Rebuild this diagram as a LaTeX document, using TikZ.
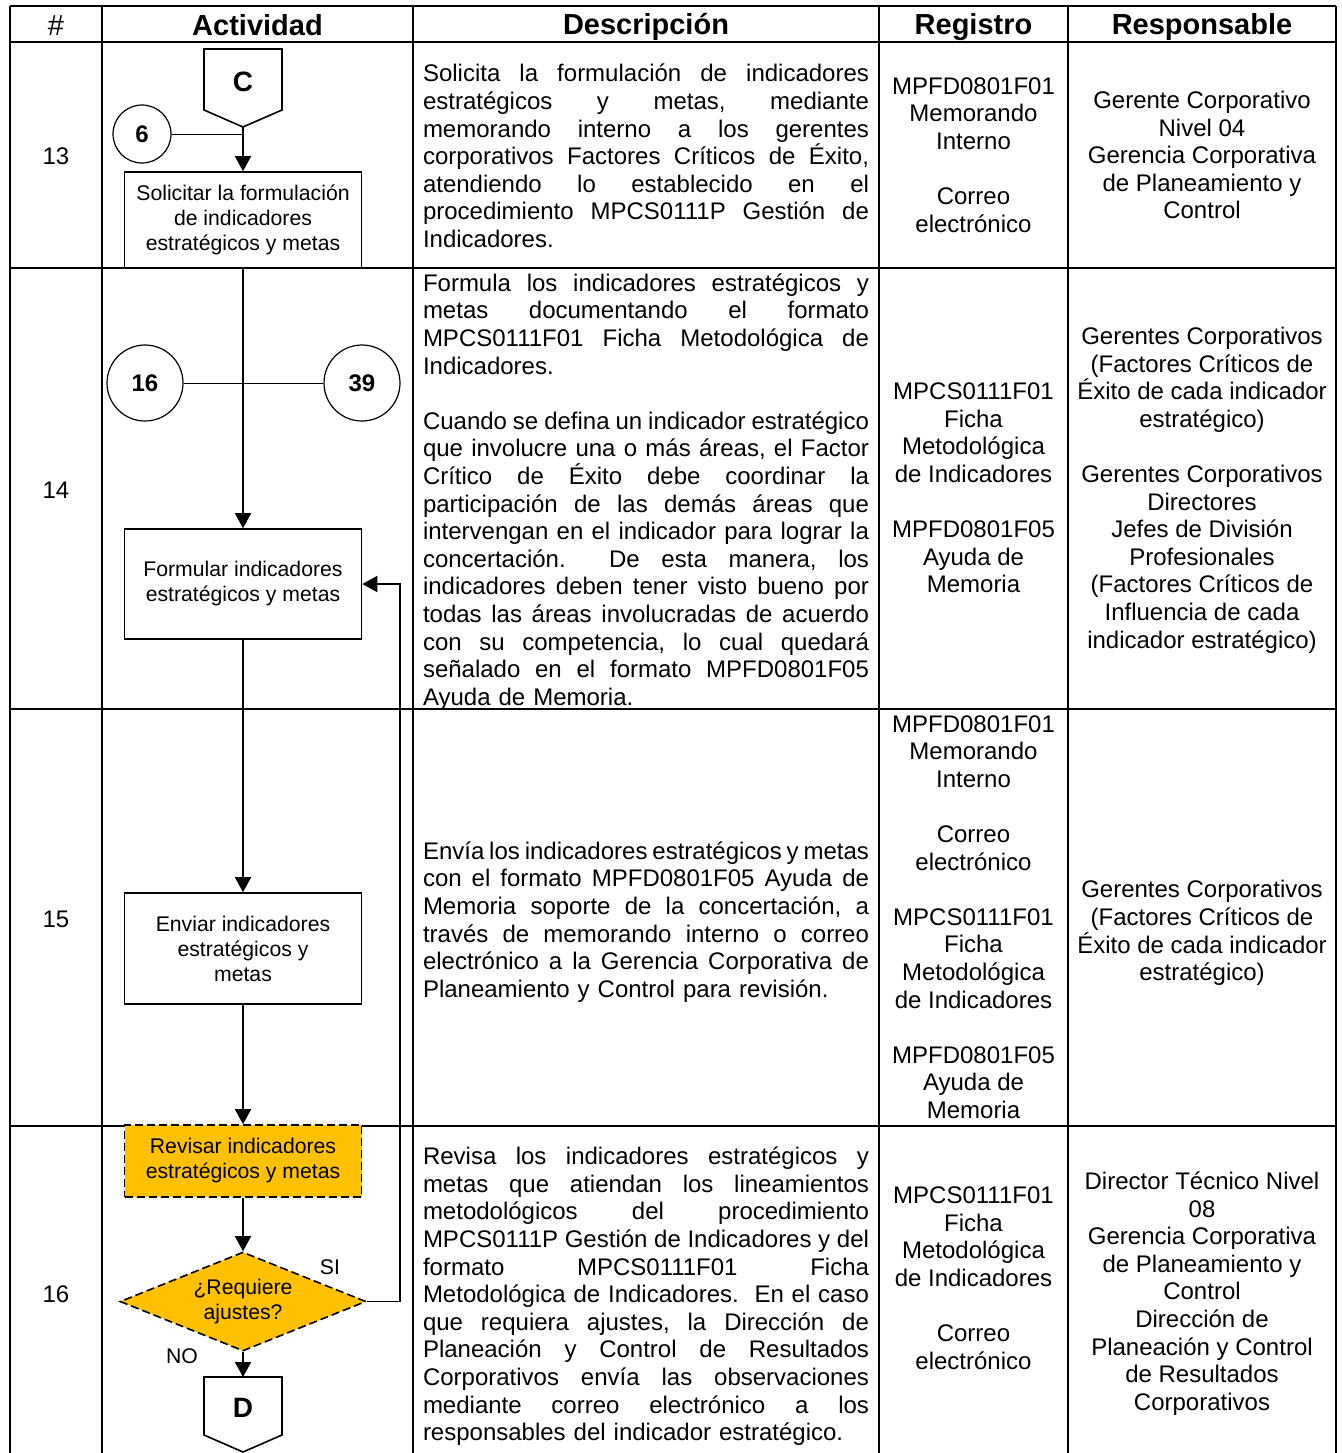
\documentclass[tikz,border=0pt]{standalone}
\usepackage{fontspec}
\setmainfont{Liberation Sans}
\usetikzlibrary{arrows.meta}
\usetikzlibrary{calc}
\usetikzlibrary{shapes.geometric}

\definecolor{revorange}{HTML}{FFC000}

\newlength{\descw}
\setlength{\descw}{223pt}
% one justified line of the description column
\newcommand{\jl}[1]{\leavevmode\hbox to\descw{\frenchspacing\spaceskip=0.278em plus 1fil minus 0.15em\relax#1}\\}
% struts that centre the text on its visual middle
\newcommand{\cellstrut}{\rule[-2.1pt]{0pt}{13.8pt}}
\newcommand{\boxstrut}{\rule{0pt}{14.5pt}}
\newcommand{\boxendstrut}{\rule{0pt}{12.5pt}}
\newcommand{\headstrut}{\rule[-2.2pt]{0pt}{16pt}}

\begin{document}
\begin{tikzpicture}[x=0.5pt,y=-0.5pt,
    tablerule/.style={line width=1pt},
    cell/.style={inner sep=0pt,align=center,font=\fontsize{12}{13.8}\selectfont,
      execute at begin node={\lineskiplimit=-100pt\cellstrut},execute at end node=\cellstrut},
    head/.style={inner sep=0pt,font=\bfseries\fontsize{14.5}{16}\selectfont,
      execute at begin node=\headstrut},
    desc/.style={cell,text width=\descw,align=left},
    proc/.style={draw,line width=0.8pt,fill=white,minimum width=118.5pt,inner sep=2pt,
      align=center,font=\fontsize{10.6}{12.5}\selectfont,
      execute at begin node={\lineskiplimit=-100pt\boxstrut},execute at end node=\boxendstrut},
    review/.style={proc,fill=revorange,dash pattern=on 4pt off 2pt},
    decision/.style={diamond,draw,line width=0.8pt,fill=revorange,dash pattern=on 4pt off 2pt,
      aspect=2.5,inner sep=0pt,minimum width=123pt,minimum height=49.5pt,
      align=center,font=\fontsize{10.6}{12.5}\selectfont,
      execute at begin node={\lineskiplimit=-100pt\boxstrut},execute at end node=\boxendstrut},
    link/.style={circle,draw,line width=0.6pt,fill=white,inner sep=0pt,
      font=\bfseries\fontsize{12}{14}\selectfont},
    page/.style={inner sep=0pt,font=\bfseries\fontsize{14}{16}\selectfont},
    lbl/.style={inner sep=0pt,font=\fontsize{10.6}{12.5}\selectfont},
    outline/.style={line width=0.8pt,fill=white},
    flow/.style={line width=0.8pt,-{Triangle[length=7.5pt,width=8pt]}},
    thinline/.style={line width=0.5pt}]

  \useasboundingbox (0,0) rectangle (1342,1453);

  % table
  \draw[tablerule] (10,6) -- (1336,6);
  \foreach \y in {42,268,709,1126}
    \draw[tablerule] (10,\y) -- (1336,\y);
  \foreach \x in {10,102,413,879,1068,1336}
    \draw[tablerule] (\x,6) -- (\x,1453);

  % header
  \node[head,font=\fontsize{14.5}{16}\selectfont] (hNum) at (56,24) {\#};
  \node[head] (hAct) at (257.5,24) {Actividad};
  \node[head] (hDesc) at (646,24) {Descripción};
  \node[head] (hReg) at (973.5,24) {Registro};
  \node[head] (hResp) at (1202,24) {Responsable};

  % row numbers
  \node[cell] (n13) at (56,155) {13};
  \node[cell] (n14) at (56,489) {14};
  \node[cell] (n15) at (56,918) {15};
  \node[cell] (n16) at (56,1293) {16};

  % descripcion
  \node[desc] (d13) at (646,155) {\jl{Solicita la formulación de indicadores}\jl{estratégicos y metas, mediante}\jl{memorando interno a los gerentes}\jl{corporativos Factores Críticos de Éxito,}\jl{atendiendo lo establecido en el}\jl{procedimiento MPCS0111P Gestión de}Indicadores.};
  \node[desc] (d14) at (646,489) {\jl{Formula los indicadores estratégicos y}\jl{metas documentando el formato}\jl{MPCS0111F01 Ficha Metodológica de}Indicadores.\\[13.8pt]\jl{Cuando se defina un indicador estratégico}\jl{que involucre una o más áreas, el Factor}\jl{Crítico de Éxito debe coordinar la}\jl{participación de las demás áreas que}\jl{intervengan en el indicador para lograr la}\jl{concertación.\ \ De esta manera, los}\jl{indicadores deben tener visto bueno por}\jl{todas las áreas involucradas de acuerdo}\jl{con su competencia, lo cual quedará}\jl{señalado en el formato MPFD0801F05}Ayuda de Memoria.};
  \node[desc] (d15) at (646,919) {\jl{Envía los indicadores estratégicos y metas}\jl{con el formato MPFD0801F05 Ayuda de}\jl{Memoria soporte de la concertación, a}\jl{través de memorando interno o correo}\jl{electrónico a la Gerencia Corporativa de}Planeamiento y Control para revisión.};
  \node[desc] (d16) at (646,1293.5) {\jl{Revisa los indicadores estratégicos y}\jl{metas que atiendan los lineamientos}\jl{metodológicos del procedimiento}\jl{MPCS0111P Gestión de Indicadores y del}\jl{formato MPCS0111F01 Ficha}\jl{Metodológica de Indicadores.\ \ En el caso}\jl{que requiera ajustes, la Dirección de}\jl{Planeación y Control de Resultados}\jl{Corporativos envía las observaciones}\jl{mediante correo electrónico a los}responsables del indicador estratégico.};

  % registro
  \node[cell] (r13) at (973.5,157) {MPFD0801F01\\Memorando\\Interno\\[13.8pt]Correo\\electrónico};
  \node[cell] (r14) at (973.5,490) {MPCS0111F01\\Ficha\\Metodológica\\de Indicadores\\[13.8pt]MPFD0801F05\\Ayuda de\\Memoria};
  \node[cell] (r15) at (973.5,919) {MPFD0801F01\\Memorando\\Interno\\[13.8pt]Correo\\electrónico\\[13.8pt]MPCS0111F01\\Ficha\\Metodológica\\de Indicadores\\[13.8pt]MPFD0801F05\\Ayuda de\\Memoria};
  \node[cell] (r16) at (973.5,1280) {MPCS0111F01\\Ficha\\Metodológica\\de Indicadores\\[13.8pt]Correo\\electrónico};

  % responsable
  \node[cell] (p13) at (1202,157) {Gerente Corporativo\\Nivel 04\\Gerencia Corporativa\\de Planeamiento y\\Control};
  \node[cell] (p14) at (1202,490) {Gerentes Corporativos\\(Factores Críticos de\\Éxito de cada indicador\\estratégico)\\[13.8pt]Gerentes Corporativos\\Directores\\Jefes de División\\Profesionales\\(Factores Críticos de\\Influencia de cada\\indicador estratégico)};
  \node[cell] (p15) at (1202,933) {Gerentes Corporativos\\(Factores Críticos de\\Éxito de cada indicador\\estratégico)};
  \node[cell] (p16) at (1202,1293.5) {Director Técnico Nivel\\08\\Gerencia Corporativa\\de Planeamiento y\\Control\\Dirección de\\Planeación y Control\\de Resultados\\Corporativos};

  % actividad: flow
  \coordinate (posC) at (243,82);
  \draw[outline] ($(posC)+(-39,-33)$) -- ++(78,0) -- ++(0,61) -- ++(-39,17) -- ++(-39,-17) -- cycle;
  \node[page] (pageC) at (posC) {C};
  \coordinate (pageC tip) at ($(posC)+(0,45)$);

  \node[link,minimum size=29pt] (ref6) at (142,134) {6};
  \node[link,minimum size=38pt] (ref16) at (145,383) {16};
  \node[link,minimum size=38pt] (ref39) at (362,383) {39};

  \node[proc,minimum height=48pt] (solicitar) at (243,220) {Solicitar la formulación\\de indicadores\\estratégicos y metas};
  \node[proc,minimum height=55pt] (formular) at (243,584) {Formular indicadores\\estratégicos y metas};
  \node[proc,minimum height=55.5pt] (enviar) at (243,948.5) {Enviar indicadores\\estratégicos y\\metas};
  \node[review,minimum height=36pt] (revisar) at (243,1161) {Revisar indicadores\\estratégicos y metas};
  \node[decision] (ajustes) at (243,1301.5) {¿Requiere\\ajustes?};

  \coordinate (posD) at (243,1408);
  \draw[outline] ($(posD)+(-39,-31)$) -- ++(78,0) -- ++(0,58) -- ++(-39,17) -- ++(-39,-17) -- cycle;
  \node[page] (pageD) at (posD) {D};
  \coordinate (pageD top) at ($(posD)+(0,-31)$);

  \node[lbl] (si) at (330,1267) {SI};
  \node[lbl] (no) at (182,1356) {NO};

  \draw[thinline] (ref6) -- (ref6 -| solicitar);
  \draw[thinline] (ref16) -- (ref39);
  \draw[flow] (pageC tip) -- (solicitar);
  \draw[flow] (solicitar) -- (formular);
  \draw[flow] (formular) -- (enviar);
  \draw[flow] (enviar) -- (revisar);
  \draw[flow] (revisar) -- (ajustes);
  \draw[flow] (ajustes) -- (pageD top);
  \draw[flow] (ajustes.east) -- ++(33,0) |- (formular.east);

\end{tikzpicture}
\end{document}
